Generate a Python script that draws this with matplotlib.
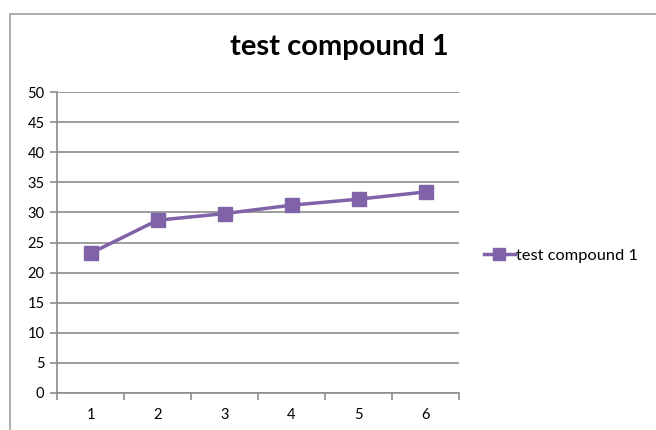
import matplotlib.pyplot as plt
from matplotlib.patches import Rectangle
from matplotlib.lines import Line2D

# series data
points = [1, 2, 3, 4, 5, 6]
values = [23.2, 28.7, 29.8, 31.2, 32.2, 33.4]
y_ticks = [0, 5, 10, 15, 20, 25, 30, 35, 40, 45, 50]
series_name = "test compound 1"

PURPLE = "#7f62a8"
GRID = "#8c8c8c"

plt.rcParams["font.family"] = ["Lato", "DejaVu Sans"]

fig = plt.figure(figsize=(6.56, 4.30), dpi=100)
fig.patch.set_facecolor("white")

# outer chart frame
fig.patches.append(Rectangle((10 / 656, -0.1), 1.2, (430 - 14) / 430 + 0.1,
                             transform=fig.transFigure, fill=False,
                             edgecolor="#a0a0a0", linewidth=1.2))

ax = fig.add_axes([57 / 656, 37 / 430, (459 - 57) / 656, (393 - 92) / 430])
ax.plot(points, values, color=PURPLE, linewidth=2.5, marker="s",
        markersize=10, markerfacecolor=PURPLE, markeredgecolor=PURPLE)

ax.set_xlim(0.5, 6.5)
ax.set_ylim(0, 50)
ax.set_yticks(y_ticks)
ax.set_xticks(points)
ax.set_xticks([p - 0.5 for p in points] + [6.5], minor=True)
ax.tick_params(axis="x", which="major", length=0, pad=11, labelsize=10.5)
ax.tick_params(axis="x", which="minor", length=5, color=GRID, width=1.2)
ax.tick_params(axis="y", length=5, color=GRID, width=1.2, labelsize=10.5, pad=4)

ax.grid(axis="y", color=GRID, linewidth=1.2)
ax.set_axisbelow(True)
for side in ("top", "right"):
    ax.spines[side].set_visible(False)
for side in ("left", "bottom"):
    ax.spines[side].set_color(GRID)
    ax.spines[side].set_linewidth(1.2)

fig.text(339 / 656, 1 - 47 / 430, series_name, ha="center", va="center",
         fontsize=21, fontweight="bold")

handle = Line2D([], [], color=PURPLE, linewidth=2.5, marker="s",
                markersize=9, markerfacecolor=PURPLE)
fig.legend([handle], [series_name], loc="center left",
           bbox_to_anchor=(474 / 656, 1 - 256 / 430), frameon=False,
           fontsize=11.8, handlelength=1.9, handletextpad=0.05,
           borderaxespad=0.2)

fig.savefig("out.png", dpi=100)
